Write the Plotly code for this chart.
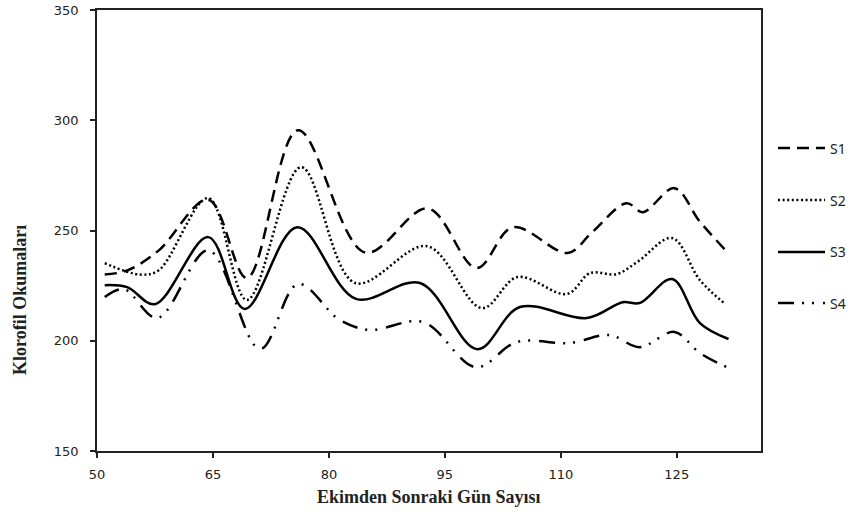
import plotly.graph_objects as go

# Data (days after sowing, chlorophyll readings)
s1_x = [51, 54, 58, 64.4, 69.4, 76, 84.7, 92.8, 99.1, 103.8, 110.9, 114, 118.5, 120.6, 124.7, 128, 131.6]
s1_y = [230, 232, 241, 264, 228.5, 295.5, 240, 260, 233, 251.5, 239.8, 249, 262.4, 258.3, 269.2, 254, 240]

s2_x = [51, 55.6, 58, 64.4, 69.4, 76.4, 83.4, 92.7, 99.8, 104.4, 110.8, 113.8, 117.2, 120, 124.4, 128, 131.3]
s2_y = [235.2, 230, 232, 264.7, 218.5, 278.7, 226.2, 242.9, 214.8, 228.9, 221.2, 230.7, 230.2, 236, 246.6, 227.5, 216.6]

s3_x = [51, 53.9, 57.5, 64.4, 69.1, 75.9, 83.5, 91.8, 99.2, 104.7, 113.4, 118, 120.2, 124.4, 128, 131.7]
s3_y = [225.2, 224.3, 216.6, 247, 214.4, 251.5, 219, 226.2, 196.2, 215.3, 210.3, 217.5, 217.1, 228, 208, 200.8]

s4_x = [51, 53.5, 57.8, 64.4, 71.1, 76, 81.4, 85.3, 92.2, 99, 104.3, 111.2, 116.3, 120.2, 124.7, 128, 131.5]
s4_y = [219.8, 223.4, 210.3, 241, 196.2, 225.7, 209.4, 204.9, 208.5, 188, 199.4, 199, 202.6, 197.1, 204, 194.4, 188]

names = ["S1", "S2", "S3", "S4"]
dashes = ["12px,7px", "2px,2.6px", "solid", "16px,8px,2px,8px,2px,9px"]
xs = [s1_x, s2_x, s3_x, s4_x]
ys = [s1_y, s2_y, s3_y, s4_y]

x_ticks = [50, 65, 80, 95, 110, 125]
y_ticks = [150, 200, 250, 300, 350]

W, H = 852, 515
PL, PR, PT, PB = 97, 761, 10, 451  # plot area in pixels

fig = go.Figure()
for i in range(4):
    fig.add_trace(go.Scatter(
        x=xs[i], y=ys[i], name=names[i], mode="lines",
        line=dict(color="black", width=2.5, dash=dashes[i], shape="spline", smoothing=1.0),
        showlegend=False,
    ))

# Legend keys (outside plot, right side)
LEG_X0, LEG_X1, LEG_TX = 778, 825, 828
leg_rows = [148, 200, 252, 303]
shapes = []
annotations = []
for i in range(4):
    yp = (H - leg_rows[i]) / H
    shapes.append(dict(type="line", xref="paper", yref="paper",
                       x0=LEG_X0 / W, x1=LEG_X1 / W, y0=yp, y1=yp,
                       line=dict(color="black", width=2.5, dash=dashes[i])))
    annotations.append(dict(text=names[i], xref="paper", yref="paper",
                            x=LEG_TX / W, y=yp, xanchor="left", yanchor="middle",
                            showarrow=False,
                            font=dict(family="Noto Sans", size=14, color="#222")))

axis_common = dict(
    showline=True, linecolor="#222", linewidth=1.5, mirror=True,
    showgrid=False, zeroline=False, ticks="outside", ticklen=5,
    tickcolor="#222", tickwidth=1.5, automargin=False,
    tickfont=dict(family="DejaVu Sans", size=13, color="#222"),
)

annotations += [
    dict(text="<b>Ekimden Sonraki Gün Sayısı</b>", xref="paper", yref="paper",
         x=(PL + PR) / 2 / W, y=(H - 497) / H, xanchor="center", yanchor="middle",
         showarrow=False, font=dict(family="Liberation Serif", size=18, color="#222")),
    dict(text="<b>Klorofil Okumaları</b>", xref="paper", yref="paper",
         x=20 / W, y=(H - 300) / H, xanchor="center", yanchor="middle",
         textangle=-90, showarrow=False,
         font=dict(family="Liberation Serif", size=18, color="#222")),
]

fig.update_layout(
    width=W, height=H,
    margin=dict(l=0, r=0, t=0, b=0, pad=0),
    paper_bgcolor="white", plot_bgcolor="white",
    xaxis=dict(range=[50, 135.9], tickvals=x_ticks, ticklabelstandoff=6,
               domain=[PL / W, PR / W], **axis_common),
    yaxis=dict(range=[150, 350], tickvals=y_ticks, ticklabelstandoff=9,
               domain=[(H - PB) / H, (H - PT) / H], **axis_common),
    showlegend=False,
    shapes=shapes,
    annotations=annotations,
)

fig.write_html("out.html")
